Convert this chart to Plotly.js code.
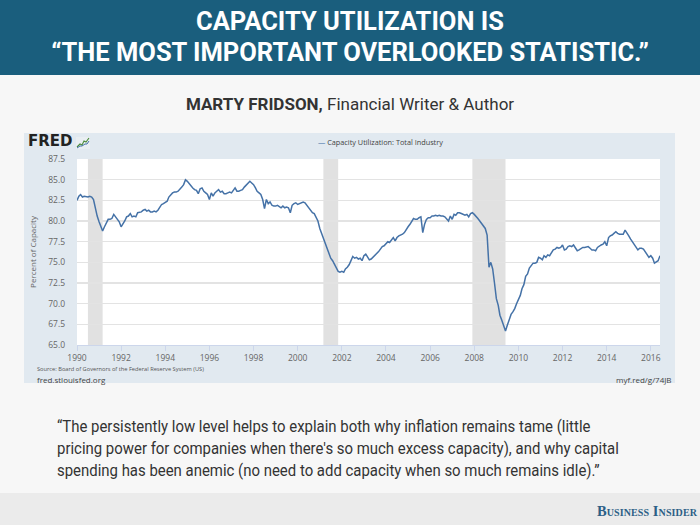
<!DOCTYPE html>
<html>
<head>
<meta charset="utf-8">
<script src="https://cdn.plot.ly/plotly-3.0.1.min.js"></script>
<style>
  html, body { margin:0; padding:0; }
  body { width:700px; height:525px; position:relative; overflow:hidden; background:#f7f7f7; font-family: Roboto, "Open Sans", sans-serif; }
  #header { position:absolute; left:0; top:0; width:700px; height:75px; background:#1a5e7d; }
  #header div { position:absolute; left:0; width:700px; text-align:center; color:#fff; font-weight:700; font-size:25.5px; line-height:25px; }
  #subtitle { position:absolute; left:0; top:94px; width:700px; text-align:center; color:#333; font-size:17px; }
  #panel { position:absolute; left:24px; top:133px; width:651px; height:250px; background:#e1e9f0; }
  #quote { position:absolute; left:57px; top:416px; width:700px; color:#333; font-size:16.5px; line-height:22px; white-space:nowrap; transform:scaleX(0.905); transform-origin:0 0; }
  #footer { position:absolute; left:0; top:493px; width:700px; height:32px; background:#ebebeb; }
  #bi { position:absolute; right:3px; top:503px; white-space:nowrap; color:#2c5f86; font-family:"Liberation Serif", "DejaVu Serif", serif; font-variant:small-caps; font-size:14.5px; font-weight:700; letter-spacing:0.1px; }
  #chart { position:absolute; left:0; top:0; width:700px; height:525px; }
  #icon { position:absolute; left:76px; top:137px; }
</style>
</head>
<body>
<div id="header">
  <div style="top:9px;">CAPACITY UTILIZATION IS</div>
  <div style="top:40px;">“THE MOST IMPORTANT OVERLOOKED STATISTIC.”</div>
</div>
<div id="subtitle"><b>MARTY FRIDSON,</b> Financial Writer &amp; Author</div>
<div id="panel"></div>
<div id="quote">“The persistently low level helps to explain both why inflation remains tame (little<br>pricing power for companies when there's so much excess capacity), and why capital<br>spending has been anemic (no need to add capacity when so much remains idle).”</div>
<div id="footer"></div>
<div id="bi">Business Insider</div>
<div id="chart"></div>
<svg id="icon" width="14" height="12" viewBox="0 0 14 12">
  <rect x="0" y="0" width="14" height="12" fill="#e9eef2"/>
  <polyline points="1,10 4,7 6,8 8,4 10,5 13,1" fill="none" stroke="#4a8a3a" stroke-width="1.1"/>
  <polyline points="1,11 4,9 6,9 9,7 11,7 13,4" fill="none" stroke="#4572a7" stroke-width="1"/>
</svg>
<script>
// Capacity Utilization: Total Industry, monthly, percent of capacity
const startYear = 1990;
const cu1990 = [82.5, 83.0, 83.2, 82.9, 83.0, 82.9, 82.9, 83.0, 82.9, 82.6, 81.4, 80.6];
const cu1991 = [79.9, 79.2, 78.8, 79.3, 79.8, 80.2, 80.2, 80.3, 80.8, 80.5, 80.3, 79.9];
const cu1992 = [79.3, 79.6, 80.0, 80.5, 80.6, 80.9, 80.5, 80.6, 80.5, 81.0, 81.1, 81.1];
const cu1993 = [81.3, 81.4, 81.2, 81.3, 81.1, 81.1, 81.2, 81.1, 81.3, 81.7, 82.0, 82.1];
const cu1994 = [82.3, 82.4, 82.9, 83.2, 83.4, 83.5, 83.5, 83.6, 83.8, 84.1, 84.4, 85.0];
const cu1995 = [84.8, 84.5, 84.2, 84.0, 83.8, 83.7, 83.3, 83.9, 84.0, 83.6, 83.4, 83.2];
const cu1996 = [82.6, 83.4, 83.0, 83.4, 83.6, 83.8, 83.5, 83.6, 83.3, 83.3, 83.4, 83.5];
const cu1997 = [83.4, 83.7, 84.0, 83.6, 83.6, 83.7, 83.8, 84.1, 84.3, 84.5, 84.8, 84.6];
const cu1998 = [84.4, 84.0, 83.6, 83.4, 83.2, 82.6, 81.5, 82.6, 82.1, 82.3, 81.9, 81.8];
const cu1999 = [81.8, 81.9, 81.8, 81.6, 81.8, 81.6, 81.7, 81.6, 81.0, 81.9, 82.1, 82.2];
const cu2000 = [82.0, 82.1, 82.1, 82.3, 82.2, 81.9, 81.6, 81.2, 81.0, 80.9, 80.4, 80.0];
const cu2001 = [79.1, 78.5, 77.9, 77.3, 76.7, 76.0, 75.5, 75.2, 74.7, 74.3, 73.9, 73.8];
const cu2002 = [73.9, 73.8, 74.2, 74.4, 74.7, 75.2, 75.7, 75.5, 75.6, 75.4, 75.5, 75.2];
const cu2003 = [75.8, 76.0, 75.7, 75.3, 75.4, 75.6, 75.9, 76.1, 76.3, 76.6, 76.9, 77.0];
const cu2004 = [77.2, 77.5, 77.4, 77.7, 78.0, 77.6, 78.0, 78.2, 78.3, 78.4, 78.6, 79.0];
const cu2005 = [79.3, 79.6, 80.0, 80.3, 80.2, 80.2, 80.4, 80.5, 78.6, 79.6, 80.2, 80.4];
const cu2006 = [80.4, 80.6, 80.6, 80.7, 80.6, 80.7, 80.6, 80.6, 80.5, 80.3, 80.0, 80.6];
const cu2007 = [80.2, 80.8, 80.7, 81.0, 81.0, 80.9, 80.8, 80.7, 80.8, 80.5, 80.9, 81.0];
const cu2008 = [80.8, 80.6, 80.3, 80.0, 79.7, 79.4, 79.1, 78.3, 74.4, 75.0, 74.2, 72.5];
const cu2009 = [70.6, 69.8, 68.6, 68.0, 67.3, 66.7, 67.4, 68.2, 68.7, 69.0, 69.4, 70.0];
const cu2010 = [70.6, 71.0, 71.8, 72.3, 73.3, 73.6, 74.3, 74.6, 74.9, 74.9, 75.0, 75.6];
const cu2011 = [75.5, 75.3, 75.8, 75.6, 75.9, 75.8, 76.2, 76.5, 76.6, 76.8, 76.7, 76.8];
const cu2012 = [77.1, 76.5, 76.6, 76.9, 77.0, 76.9, 77.1, 76.7, 76.4, 76.5, 76.7, 76.8];
const cu2013 = [76.8, 76.9, 76.9, 76.7, 76.5, 76.5, 76.4, 76.8, 77.0, 77.1, 77.2, 77.5];
const cu2014 = [77.0, 78.0, 78.2, 78.3, 78.5, 78.7, 78.5, 78.4, 78.4, 78.4, 78.9, 78.6];
const cu2015 = [78.2, 77.8, 77.5, 77.1, 76.8, 76.5, 76.7, 76.7, 76.6, 76.3, 75.9, 75.6];
const cu2016 = [75.8, 75.5, 74.9, 75.1, 75.2, 75.8];

const yearly = [cu1990, cu1991, cu1992, cu1993, cu1994, cu1995, cu1996, cu1997, cu1998, cu1999,
  cu2000, cu2001, cu2002, cu2003, cu2004, cu2005, cu2006, cu2007, cu2008, cu2009,
  cu2010, cu2011, cu2012, cu2013, cu2014, cu2015, cu2016];

// Recession periods (shaded)
const recessionStart = ['1990-07-01', '2001-03-01', '2007-12-01'];
const recessionEnd   = ['1991-03-01', '2001-11-01', '2009-06-01'];

const yTicks = [65.0, 67.5, 70.0, 72.5, 75.0, 77.5, 80.0, 82.5, 85.0, 87.5];

const dates = [], values = [];
yearly.forEach((arr, i) => {
  arr.forEach((v, m) => {
    dates.push((startYear + i) + '-' + String(m + 1).padStart(2, '0') + '-01');
    values.push(v);
  });
});

const shapes = recessionStart.map((s, i) => ({
  type: 'rect', xref: 'x', yref: 'paper', x0: s, x1: recessionEnd[i], y0: 0, y1: 1,
  fillcolor: '#e1e1e1', line: { width: 0 }, layer: 'below'
}));

const trace = {
  x: dates, y: values, type: 'scatter', mode: 'lines',
  name: 'Capacity Utilization: Total Industry',
  line: { color: '#4572a7', width: 1.5 }, hoverinfo: 'x+y'
};

const F = 'Open Sans, sans-serif';
const layout = {
  width: 700, height: 525,
  margin: { l: 77, r: 40, t: 159, b: 180 },
  paper_bgcolor: 'rgba(0,0,0,0)', plot_bgcolor: '#ffffff',
  showlegend: false,
  font: { family: F, size: 8, color: '#666' },
  xaxis: {
    type: 'date', range: [dates[0], dates[dates.length - 1]],
    tick0: '1990-01-01', dtick: 'M24', tickformat: '%Y',
    showgrid: false, showline: true, linecolor: '#ccd6eb', linewidth: 1,
    ticks: 'outside', ticklen: 5, tickcolor: '#ccd6eb',
    tickfont: { family: F, size: 8.5, color: '#666' }, zeroline: false
  },
  yaxis: {
    range: [65, 87.5], tickvals: yTicks, tickformat: '.1f',
    showgrid: true, gridcolor: '#e3e3e3', gridwidth: 1.3, zeroline: false, showline: false,
    ticks: '', ticklabelstandoff: 11,
    tickfont: { family: F, size: 8.5, color: '#666' },
    title: { text: 'Percent of Capacity', font: { family: F, size: 8, color: '#666' }, standoff: 10 }
  },
  shapes: shapes,
  annotations: [
    { xref: 'paper', yref: 'paper', x: -0.0875, y: 1.0, yshift: 7, xanchor: 'left', yanchor: 'bottom', showarrow: false,
      text: '<b>FRED</b>', font: { family: 'DejaVu Sans, Liberation Sans, sans-serif', size: 15, color: '#222' } },
    { xref: 'paper', yref: 'paper', x: 0.52, y: 1.0, yshift: 10, xanchor: 'center', yanchor: 'bottom', showarrow: false,
      text: '<span style="color:#4572a7">—</span> Capacity Utilization: Total Industry', font: { family: F, size: 7.3, color: '#444' } },
    { xref: 'paper', yref: 'paper', x: -0.072, y: 0, yshift: -18, xanchor: 'left', yanchor: 'top', showarrow: false,
      text: 'Source: Board of Governors of the Federal Reserve System (US)', font: { family: F, size: 5.7, color: '#555' } },
    { xref: 'paper', yref: 'paper', x: -0.072, y: 0, yshift: -27, xanchor: 'left', yanchor: 'top', showarrow: false,
      text: 'fred.stlouisfed.org', font: { family: F, size: 8, color: '#444' } },
    { xref: 'paper', yref: 'paper', x: 1.0, xshift: 14, y: 0, yshift: -27, xanchor: 'right', yanchor: 'top', showarrow: false,
      text: 'myf.red/g/74JB', font: { family: F, size: 8, color: '#444' } }
  ]
};

Plotly.newPlot('chart', [trace], layout, { displayModeBar: false, staticPlot: true });
</script>
</body>
</html>
